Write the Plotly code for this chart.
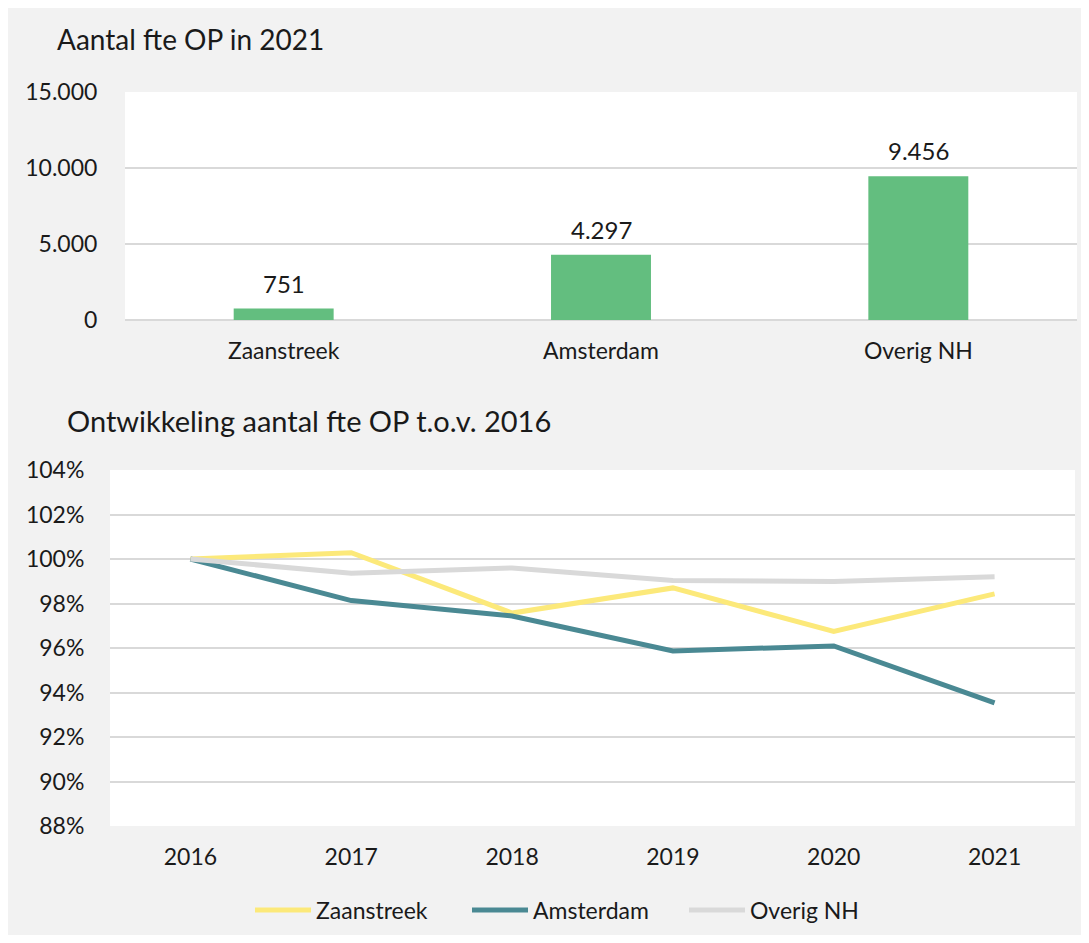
import plotly.graph_objects as go

# Data
regions = ["Zaanstreek", "Amsterdam", "Overig NH"]
fte_2021 = [751, 4297, 9456]

years = ["2016", "2017", "2018", "2019", "2020", "2021"]
zaanstreek = [100.0, 100.28, 97.57, 98.70, 96.74, 98.43]
amsterdam = [100.0, 98.13, 97.44, 95.87, 96.09, 93.53]
overig_nh = [100.0, 99.36, 99.60, 99.03, 98.99, 99.20]

# figure sits at (8, 8) inside the page because of the body margin
OFF = 8
W, H = 1089 - 2 * OFF, 943 - 2 * OFF
FONT = "Lato"
TXT = "#1a1a1a"
GRID = "#d9d9d9"


def px(x):
    return (x - OFF) / W


def py(y):
    return 1 - (y - OFF) / H


fig = go.Figure()

fig.add_trace(go.Bar(
    x=regions, y=fte_2021,
    marker=dict(color="#63be7f", line=dict(width=0)),
    width=0.315, showlegend=False, hoverinfo="x+y",
    xaxis="x", yaxis="y",
))

series = [("Zaanstreek", zaanstreek, "#fce97a"),
          ("Amsterdam", amsterdam, "#4a8993"),
          ("Overig NH", overig_nh, "#d9d9d9")]
for name, vals, col in series:
    fig.add_trace(go.Scatter(
        x=years, y=vals, mode="lines", name=name,
        line=dict(color=col, width=5),
        xaxis="x2", yaxis="y2",
    ))

annotations = [
    dict(text="Aantal fte OP in 2021", x=px(55), y=py(39),
         xref="paper", yref="paper", xanchor="left", yanchor="middle",
         showarrow=False, font=dict(size=28, color=TXT)),
    dict(text="Ontwikkeling aantal fte OP t.o.v. 2016", x=px(65), y=py(420),
         xref="paper", yref="paper", xanchor="left", yanchor="middle",
         showarrow=False, font=dict(size=29, color=TXT)),
]
for cat, v in zip(regions, fte_2021):
    annotations.append(dict(
        text=f"{v:,}".replace(",", "."), x=cat, y=v, xref="x", yref="y",
        xanchor="center", yanchor="bottom", yshift=9, showarrow=False,
        font=dict(size=24, color=TXT)))

fig.update_layout(
    width=W, height=H,
    margin=dict(l=0, r=0, t=0, b=0, autoexpand=False),
    paper_bgcolor="#f2f2f2", plot_bgcolor="#ffffff",
    font=dict(family=FONT, size=23, color=TXT),
    separators=",.",
    xaxis=dict(domain=[px(125), px(1077)], anchor="y", type="category",
               showgrid=False, showline=False, zeroline=False,
               ticks="outside", ticklen=10, tickcolor="rgba(0,0,0,0)",
               tickfont=dict(size=23), automargin=False),
    yaxis=dict(domain=[py(320), py(92)], anchor="x", range=[0, 15000],
               tick0=0, dtick=5000, tickformat=",d",
               showgrid=True, gridcolor=GRID, gridwidth=1.5,
               zeroline=True, zerolinecolor=GRID, zerolinewidth=2,
               showline=False, automargin=False,
               ticks="outside", ticklen=22, tickcolor="rgba(0,0,0,0)",
               tickfont=dict(size=23)),
    xaxis2=dict(domain=[px(110), px(1075)], anchor="y2", type="category",
                range=[-0.5, 5.5], automargin=False,
                showgrid=False, showline=False, zeroline=False,
                ticks="outside", ticklen=10, tickcolor="rgba(0,0,0,0)",
                tickfont=dict(size=23)),
    yaxis2=dict(domain=[py(826), py(470)], anchor="x2", range=[88, 104],
                dtick=2, ticksuffix="%", automargin=False,
                showgrid=True, gridcolor=GRID, gridwidth=1.5,
                zeroline=False, showline=False,
                ticks="outside", ticklen=20, tickcolor="rgba(0,0,0,0)",
                tickfont=dict(size=23)),
    legend=dict(orientation="h", x=px(250), xanchor="left", y=py(910),
                yanchor="middle", bgcolor="rgba(0,0,0,0)",
                font=dict(size=23), itemwidth=56, traceorder="normal",
                entrywidth=146, entrywidthmode="pixels"),
    annotations=annotations,
)

fig.write_html("out.html")
